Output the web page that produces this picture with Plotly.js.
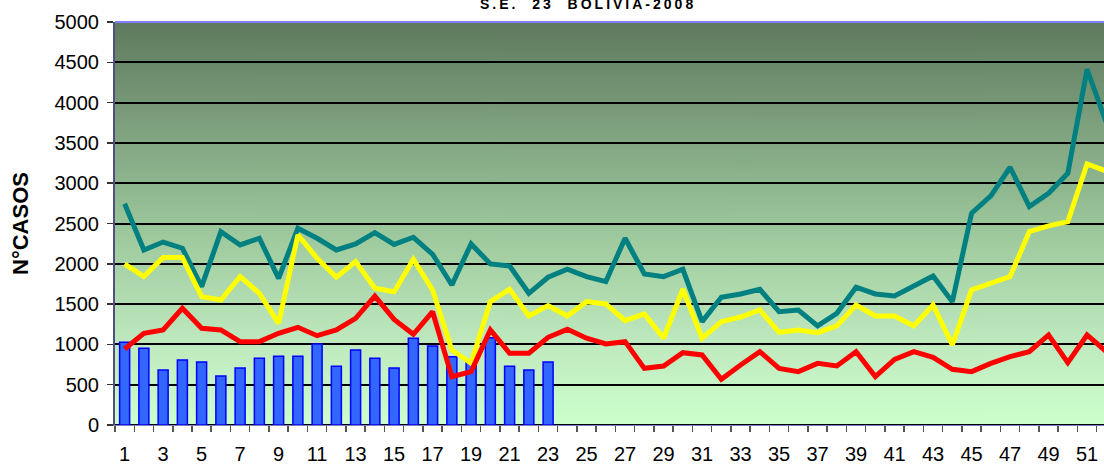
<!DOCTYPE html>
<html>
<head>
<meta charset="utf-8">
<script src="https://cdn.plot.ly/plotly-3.0.1.min.js"></script>
<style>
  html, body { margin: 0; padding: 0; background: #ffffff; overflow: hidden; }
  #chart { width: 1104px; height: 465px; }
</style>
</head>
<body>
<div id="chart"></div>
<script>
// ---- data ----
const weeks = Array.from({length: 52}, (_, i) => i + 1);
const weeks2008 = Array.from({length: 23}, (_, i) => i + 1);

const tickLabels = ["1","3","5","7","9","11","13","15","17","19","21","23","25","27","29","31","33","35","37","39","41","43","45","47","49","51"];
const tickValues = [1,3,5,7,9,11,13,15,17,19,21,23,25,27,29,31,33,35,37,39,41,43,45,47,49,51];

const casos2008 = [1026, 951, 682, 807, 782, 608, 707, 827, 852, 852, 1005, 728, 931, 827, 707, 1076, 980, 848, 790, 1084, 728, 682, 782];

const maximo = [2745, 2172, 2270, 2193, 1717, 2399, 2234, 2317, 1820, 2441, 2317, 2172, 2246, 2387, 2240, 2329, 2118, 1737, 2246, 1998, 1973, 1634, 1833, 1932, 1841, 1779, 2317, 1874, 1841, 1932, 1282, 1585, 1625, 1684, 1406, 1427, 1229, 1386, 1709, 1626, 1601, 1717, 1849, 1530, 2627, 2842, 3198, 2710, 2875, 3123, 4414, 3750];

const mediana = [1998, 1841, 2077, 2077, 1593, 1551, 1841, 1634, 1262, 2358, 2068, 1833, 2027, 1696, 1654, 2056, 1675, 931, 765, 1530, 1684, 1353, 1481, 1353, 1530, 1502, 1294, 1377, 1076, 1684, 1076, 1282, 1340, 1427, 1150, 1179, 1146, 1229, 1489, 1353, 1353, 1229, 1489, 993, 1675, 1766, 1841, 2399, 2470, 2523, 3239, 3150];

const minimo = [943, 1138, 1179, 1448, 1200, 1179, 1034, 1034, 1138, 1212, 1108, 1179, 1324, 1600, 1310, 1125, 1406, 600, 662, 1179, 890, 890, 1088, 1187, 1076, 1005, 1034, 703, 732, 897, 869, 567, 745, 910, 703, 662, 765, 732, 910, 600, 815, 910, 840, 691, 662, 765, 848, 910, 1117, 773, 1117, 910];

// ---- gradient background ----
function gradientURL() {
  const c = document.createElement('canvas');
  c.width = 4; c.height = 400;
  const ctx = c.getContext('2d');
  const g = ctx.createLinearGradient(0, 0, 0, 400);
  g.addColorStop(0, '#5f7a5f');
  g.addColorStop(0.55, '#a0cca0');
  g.addColorStop(0.8, '#bfeabf');
  g.addColorStop(1, '#ccffcc');
  ctx.fillStyle = g;
  ctx.fillRect(0, 0, 4, 400);
  return c.toDataURL('image/png');
}

const traces = [
  {
    type: 'bar', name: '2008', x: weeks2008, y: casos2008, width: 0.52,
    marker: {color: '#3366ff', line: {color: '#0000ff', width: 1.5}},
    hoverinfo: 'x+y'
  },
  {
    type: 'scatter', mode: 'lines', name: 'Máximo', x: weeks, y: maximo,
    line: {color: '#008080', width: 5}
  },
  {
    type: 'scatter', mode: 'lines', name: 'Mediana', x: weeks, y: mediana,
    line: {color: '#ffff00', width: 5}
  },
  {
    type: 'scatter', mode: 'lines', name: 'Mínimo', x: weeks, y: minimo,
    line: {color: '#ff0000', width: 5}
  }
];

const layout = {
  width: 1104, height: 465,
  margin: {l: 115, r: 0, t: 22, b: 40, pad: 0},
  paper_bgcolor: '#ffffff',
  plot_bgcolor: 'rgba(0,0,0,0)',
  showlegend: false,
  font: {family: 'Liberation Sans, Arial, sans-serif', color: '#000000', size: 20},
  images: [{
    source: gradientURL(), xref: 'paper', yref: 'paper',
    x: 0, y: 1, sizex: 1, sizey: 1, xanchor: 'left', yanchor: 'top',
    sizing: 'stretch', layer: 'below'
  }],
  xaxis: {
    range: [0.5, 51.88],
    tickmode: 'array', tickvals: tickValues, ticktext: tickLabels,
    ticks: '', showgrid: false, zeroline: false,
    showline: true, linecolor: '#8080c0', linewidth: 1,
    tickfont: {size: 20, family: 'Liberation Sans, Arial, sans-serif'},
    ticklabelstandoff: 11,
    minor: {tick0: 0.5, dtick: 1, ticks: 'outside', ticklen: 6, tickwidth: 1.5, tickcolor: '#555555', showgrid: false}
  },
  yaxis: {
    range: [0, 5000], dtick: 500, tick0: 0,
    showgrid: true, gridcolor: '#000000', gridwidth: 2,
    zeroline: true, zerolinecolor: '#000000', zerolinewidth: 2,
    showline: true, linecolor: '#505080', linewidth: 2,
    ticks: 'outside', ticklen: 6, tickwidth: 1.5, tickcolor: '#333333',
    ticklabelstandoff: 4,
    tickfont: {size: 20, family: 'Liberation Sans, Arial, sans-serif'},
    title: {
      text: '<b>N°CASOS</b>',
      font: {size: 22, family: 'Liberation Sans, Arial, sans-serif'},
      standoff: 20
    }
  },
  shapes: [{
    type: 'line', xref: 'paper', yref: 'paper', x0: 0, x1: 1, y0: 1, y1: 1,
    line: {color: '#8080ff', width: 2}
  }],
  annotations: [{
    xref: 'paper', yref: 'paper', x: 0.478, y: 1, xanchor: 'center', yanchor: 'bottom',
    yshift: 8, showarrow: false,
    text: '<b><span style="letter-spacing:3px">S.E.  23  BOLIVIA-2008</span></b>',
    font: {size: 14, family: 'Liberation Sans, Arial, sans-serif', color: '#000000'}
  }]
};

Plotly.newPlot('chart', traces, layout, {displayModeBar: false, staticPlot: true});
</script>
</body>
</html>
